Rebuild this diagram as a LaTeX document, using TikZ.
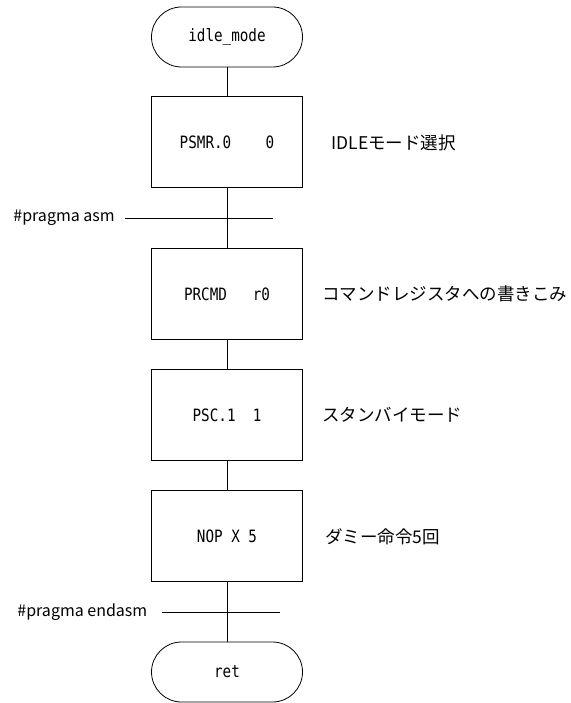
\documentclass[tikz,border=0pt]{standalone}
\usepackage{fontspec}
\setmainfont{Noto Sans CJK JP}
\setmonofont[FakeStretch=0.84]{DejaVu Sans Mono}
\newcommand{\jpfont}{\fontsize{17.5}{20}\selectfont}
\newcommand{\codefont}{\fontsize{17}{20}\selectfont\ttfamily}
\newcommand{\pragfont}{\fontsize{16}{19}\selectfont}
\begin{document}
\begin{tikzpicture}[x=1pt, y=-1pt, line width=0.8pt,
        term/.style={draw, rounded corners=30pt, minimum width=151pt, minimum height=60pt, font=\codefont},
        proc/.style={draw, minimum width=151pt, minimum height=91pt, font=\codefont},
        note/.style={anchor=west, inner sep=0pt, font=\jpfont},
        prag/.style={anchor=west, inner sep=0pt, font=\pragfont}]
        \useasboundingbox (0,0) rectangle (570,703);
        \node[term] at (227, 37)  (start)  {idle\_mode};
        \node[proc] at (227, 142) (psmr)   {PSMR.0\ \ \ \ 0};
        \node[proc] at (227, 294) (prcmd)  {PRCMD\ \ \ r0};
        \node[proc] at (227, 415) (psc)    {PSC.1\ \ 1};
        \node[proc] at (227, 536) (nop)    {NOP X 5};
        \node[term] at (227, 672) (ret)    {ret};
        \node[note] at (331, 143) (n1) {IDLEモード選択};
        \node[note] at (322, 294) (n2) {コマンドレジスタへの書きこみ};
        \node[note] at (322, 415) (n3) {スタンバイモード};
        \node[note] at (325, 537) (n4) {ダミー命令5回};
        \node[prag] at (13, 218)  (asm)    {\#pragma asm};
        \node[prag] at (17, 612)  (endasm) {\#pragma endasm};
        \coordinate (asmend)    at (273, 218);
        \coordinate (endasmend) at (280, 612);
        \draw (start) -- (psmr);
        \draw (psmr) -- (prcmd);
        \draw (prcmd) -- (psc);
        \draw (psc) -- (nop);
        \draw (nop) -- (ret);
        \draw[shorten <=10pt] (asm.east) -- (asmend);
        \draw[shorten <=14pt] (endasm.east) -- (endasmend);
    \end{tikzpicture}
\end{document}
